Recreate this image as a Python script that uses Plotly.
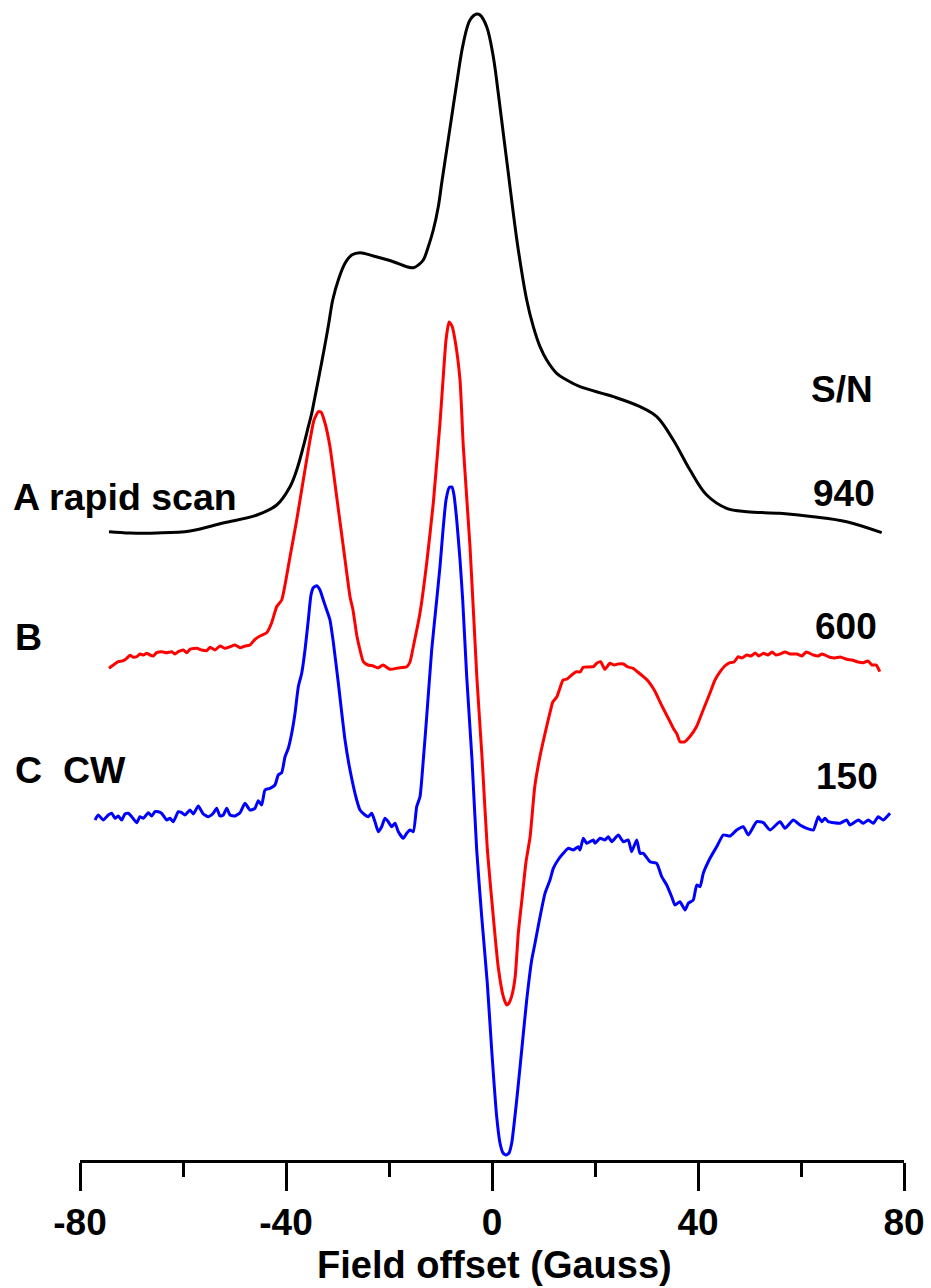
import plotly.graph_objects as go

# ---------------- data (field offset in Gauss, intensity in arb. units) -------------
A_field = [-74.37, -70.29, -65.05, -58.64, -52.23, -45.63, -41.81, -39.22, -37.92, -36.64,
           -35.67, -35.01, -34.37, -33.73, -32.62, -31.75, -30.93, -29.84, -28.54, -27.24,
           -25.63, -23.05, -19.17, -16.56, -15.28, -14.31, -13.34, -12.37, -11.40, -10.43,
           -9.77, -8.80, -7.83, -6.85, -5.57, -4.27, -2.97, -2.33, -1.03, 0.25,
           1.22, 2.19, 3.17, 4.14, 5.11, 6.74, 8.02, 9.32, 10.62, 12.56,
           14.50, 17.09, 23.55, 28.74, 31.98, 35.20, 38.45, 41.69, 45.57, 49.46,
           55.92, 62.39, 68.87, 75.67]
A_intensity = [628.3, 627, 627, 629, 637, 645, 655, 673.3, 690, 713.3,
               733.3, 746.7, 763.3, 780, 810, 835, 860, 880, 896.7, 905,
               907.3, 904, 898.3, 893.3, 892.3, 895, 900, 913.3, 930, 953.3,
               976.7, 1010, 1043.3, 1076.7, 1116.7, 1140, 1146, 1145, 1133.3, 1103.3,
               1066.7, 1026.7, 986.7, 946.7, 910, 860, 833.3, 813.3, 800, 786.7,
               780, 773.3, 763.3, 753.3, 743.3, 720, 690, 665, 651.7, 648.3,
               646.7, 643.3, 638.3, 627.3]

B_field = [-74.37, -73.53, -72.56, -71.59, -70.93, -70.29, -69.65, -68.99, -68.35, -67.71,
           -67.05, -66.41, -65.77, -65.11, -64.14, -63.17, -62.19, -61.55, -60.91, -59.94,
           -59.28, -58.64, -57.34, -56.37, -55.40, -54.76, -53.79, -52.82, -51.84, -50.87,
           -49.90, -48.93, -47.96, -46.99, -46.02, -45.05, -43.75, -42.78, -41.81, -40.83,
           -39.22, -37.92, -36.64, -35.34, -34.56, -33.73, -33.20, -32.43, -31.46, -30.16,
           -28.87, -27.57, -26.99, -26.27, -25.63, -24.99, -24.08, -23.05, -22.14, -21.17,
           -19.81, -18.25, -16.56, -15.92, -15.28, -13.98, -12.68, -11.40, -10.10, -9.51,
           -8.93, -8.35, -7.77, -7.18, -6.21, -5.57, -4.27, -2.91, -1.9, -0.9,
           0.25, 1.2, 2.2, 2.85, 3.3, 3.8, 4.5, 5.1, 5.8, 6.6,
           7.4, 8.3, 9.3, 10.3, 11.3, 11.8, 12.6, 13.2, 13.8, 14.6,
           15.1, 15.7, 16.4, 17.1, 17.7, 18.6, 19.7, 20.4, 21.1, 21.9,
           22.9, 23.7, 24.5, 25.5, 26.4, 27.4, 28.3, 29.4, 30.3, 31.3,
           32.0, 32.6, 33.2, 33.9, 34.6, 35.2, 35.9, 36.5, 37.3, 38.4,
           39.7, 41.0, 42.3, 43.3, 44.3, 45.2, 46.2, 47.0, 47.8, 48.5,
           49.5, 50.3, 51.1, 51.8, 52.7, 53.6, 54.4, 55.1, 55.9, 56.9,
           57.9, 59.2, 60.2, 61.0, 62.4, 63.3, 64.1, 65.6, 66.6, 67.6,
           68.9, 69.9, 71.1, 72.1, 73.0, 73.8, 74.6, 75.3]
B_intensity = [491.7, 495, 498.3, 499.3, 501.7, 504.7, 502.7, 503.3, 506, 505,
               506.7, 505, 504, 507.3, 508.3, 507.3, 508.3, 506, 508.3, 510,
               507.3, 510.7, 511.7, 510, 509.3, 512.7, 510, 514, 511.7, 513.3,
               515, 512.3, 514, 515, 520.7, 524, 527.3, 537.3, 553.3, 560,
               603.3, 640, 680, 720, 740, 748.3, 748, 737, 713.3, 663.3,
               613.3, 563.3, 550, 525, 510, 498.3, 495, 494, 492, 495,
               490.7, 492, 493.3, 498, 513.3, 547, 597, 657, 737, 780,
               820, 838, 834, 820, 780, 713.3, 613.3, 480, 400, 310,
               243.3, 193.3, 163.3, 155, 157, 163.3, 183.3, 226.7, 260, 298,
               323.3, 373.3, 403.3, 426.7, 448.3, 458, 463.3, 472, 480, 481,
               483.3, 486, 488.3, 488, 492.7, 493, 493.3, 497, 498.3, 490.7,
               496.7, 495, 496, 496, 493, 491.7, 488, 483.3, 479, 471.7,
               465, 458.3, 452, 445, 438, 431.7, 426, 418.3, 418, 423.3,
               433.3, 450, 466.7, 480, 488.3, 494, 497.3, 498, 503.3, 502,
               505, 504, 507, 504, 506.7, 505, 508, 505, 506, 508,
               506, 506, 504, 508, 505, 504, 506, 502.7, 502, 503,
               500.7, 500, 498, 497.3, 499, 495, 495, 488.3]

C_field = [-77.09, -76.45, -75.48, -74.50, -73.84, -73.20, -72.56, -71.90, -71.26, -70.62,
           -69.96, -68.99, -68.35, -67.71, -66.74, -66.08, -65.44, -64.80, -64.14, -63.17,
           -62.52, -61.88, -60.91, -60.25, -59.61, -58.64, -58.00, -57.03, -56.06, -55.09,
           -54.12, -53.46, -52.82, -52.17, -51.51, -50.87, -49.90, -48.93, -47.96, -46.99,
           -46.02, -45.38, -44.72, -44.08, -43.11, -42.14, -41.50, -40.83, -40.19, -39.55,
           -38.89, -38.25, -37.61, -36.95, -36.31, -35.67, -35.15, -34.70, -34.04, -33.40,
           -32.76, -32.10, -31.46, -30.82, -29.84, -28.54, -27.57, -26.27, -25.63, -24.66,
           -24.02, -23.36, -22.72, -22.08, -21.42, -20.78, -20.14, -19.48, -18.83, -18.19,
           -17.22, -16.56, -15.92, -15.28, -14.62, -13.98, -13.34, -12.68, -11.71, -10.74,
           -10.10, -9.51, -8.93, -8.29, -7.77, -7.38, -6.85, -6.21, -5.69, -4.91,
           -3.88, -2.97, -2.00, -0.91, -0.06, 0.91, 1.55, 2.14, 2.72, 3.30,
           3.83, 4.80, 5.77, 6.74, 7.71, 8.35, 9.32, 10.29, 11.26, 11.90,
           12.82, 13.84, 14.82, 15.79, 16.76, 17.09, 17.73, 18.39, 19.67, 20.00,
           20.97, 21.94, 22.58, 23.24, 24.52, 25.50, 26.47, 27.11, 28.10, 28.74,
           29.38, 30.68, 31.98, 32.95, 33.92, 34.89, 35.53, 36.50, 37.48, 38.12,
           39.09, 39.75, 40.39, 41.03, 42.33, 43.63, 44.91, 46.21, 47.51, 48.80,
           49.77, 51.40, 52.68, 53.98, 55.92, 56.89, 58.50, 59.81, 61.11, 62.39,
           63.36, 64.02, 64.66, 65.30, 67.57, 68.87, 69.51, 71.13, 72.10, 73.07,
           74.04, 75.01, 75.98, 77.28]
C_intensity = [340, 345, 340, 345, 346.7, 341.7, 344, 340, 346, 346.7,
               343.3, 337.3, 343.3, 341.7, 347.3, 344, 348.3, 348.3, 346.7, 340,
               341.7, 338.3, 348.3, 347.3, 345, 350, 346, 354, 346, 343.3,
               346.7, 351.7, 344, 345, 351.7, 345, 344, 347.3, 356.7, 350,
               351.7, 359.3, 355, 370, 371.7, 375, 385, 387.3, 403.3, 411.7,
               426.7, 446.7, 473.3, 486.7, 510, 540, 565, 572.3, 574.3, 570,
               560, 550, 540, 518, 477, 420, 390, 360, 350, 345,
               343.3, 346.7, 338.3, 328.3, 333.3, 341.7, 338.3, 333.3, 336.7, 328.3,
               321.7, 326.7, 330, 328.3, 353.3, 363.3, 400, 443.3, 510, 560,
               593.3, 630, 660, 672.7, 673, 665, 640, 600, 560, 483.3,
               400, 310, 243.3, 176.7, 110, 43.3, 17, 7, 5, 7,
               17, 60, 110, 160, 200, 216.7, 243, 266.7, 280, 291.7,
               300, 306.7, 311.7, 310, 313.3, 310, 321.7, 316.7, 320, 316.7,
               321.7, 320, 323.3, 318.3, 325, 318.3, 320, 308.3, 320, 306.7,
               306.7, 298.3, 296.7, 283.3, 275, 263.3, 255, 258.3, 250, 256.7,
               260, 275, 273.3, 286.7, 301.7, 313.3, 325, 324, 330, 333.3,
               325, 338.3, 337.3, 330, 338.3, 331.7, 340, 335, 331.7, 330,
               343.3, 338.3, 341.7, 338.3, 336.7, 340, 335, 340, 336.7, 340,
               336.7, 343.3, 340, 346.7]

tick_vals = [-80, -40, 0, 40, 80]
tick_text = ["-80", "-40", "0", "40", "80"]

trace_labels = ["A rapid scan", "B", "C", "CW"]
sn_labels = ["S/N", "940", "600", "150"]
axis_title = "Field offset (Gauss)"

# ---------------- layout helpers -------------
W, H = 931, 1288
ML, MR, MT, MB = 80, 27, 0, 128
PW, PH = W - ML - MR, H - MT - MB


def px_x(px):
    return (px - ML) / PW


def px_y(py):
    return (H - MB - py) / PH


FONT = "Liberation Sans, Arial, sans-serif"

fig = go.Figure()
fig.add_trace(go.Scatter(x=A_field, y=A_intensity, mode="lines",
                         line=dict(color="#000000", width=3, shape="spline", smoothing=1.0),
                         hoverinfo="skip"))
fig.add_trace(go.Scatter(x=B_field, y=B_intensity, mode="lines",
                         line=dict(color="#ff0000", width=3, shape="spline", smoothing=0.5),
                         hoverinfo="skip"))
fig.add_trace(go.Scatter(x=C_field, y=C_intensity, mode="lines",
                         line=dict(color="#0000ff", width=3, shape="spline", smoothing=0.5),
                         hoverinfo="skip"))


def bold(size):
    return dict(family=FONT, size=size, color="black", weight="bold")


anns = [
    (trace_labels[0], 12, 497, "left", 37.5),
    (trace_labels[1], 14, 636.5, "left", 37.5),
    (trace_labels[2], 14, 770, "left", 37.5),
    (trace_labels[3], 62, 770, "left", 37.5),
    (sn_labels[0], 842, 390, "center", 37),
    (sn_labels[1], 844, 493, "center", 37),
    (sn_labels[2], 846, 626, "center", 37),
    (sn_labels[3], 847, 776.5, "center", 37),
    (axis_title, 494, 1265, "center", 38),
]
for txt, x, y, xa, fs in anns:
    fig.add_annotation(text=txt, x=px_x(x), y=px_y(y), xref="paper", yref="paper",
                       xanchor=xa, yanchor="middle", showarrow=False, font=bold(fs),
                       borderpad=0)

fig.update_layout(
    width=W, height=H,
    margin=dict(l=ML, r=MR, t=MT, b=MB),
    paper_bgcolor="white", plot_bgcolor="white",
    showlegend=False,
    xaxis=dict(range=[-80, 80], showgrid=False, zeroline=False,
               showline=True, linecolor="black", linewidth=2.5,
               tickmode="array", tickvals=tick_vals, ticktext=tick_text,
               ticks="outside", ticklen=28, tickwidth=2.5, tickcolor="black",
               tickfont=bold(37),
               minor=dict(dtick=20, tick0=0, ticks="outside", ticklen=14,
                          tickwidth=2.5, tickcolor="black", showgrid=False)),
    yaxis=dict(range=[0, 1160], visible=False, showgrid=False, zeroline=False),
)

fig.write_html("out.html", config={"displayModeBar": False},
               post_script="document.body.style.margin='0';")
